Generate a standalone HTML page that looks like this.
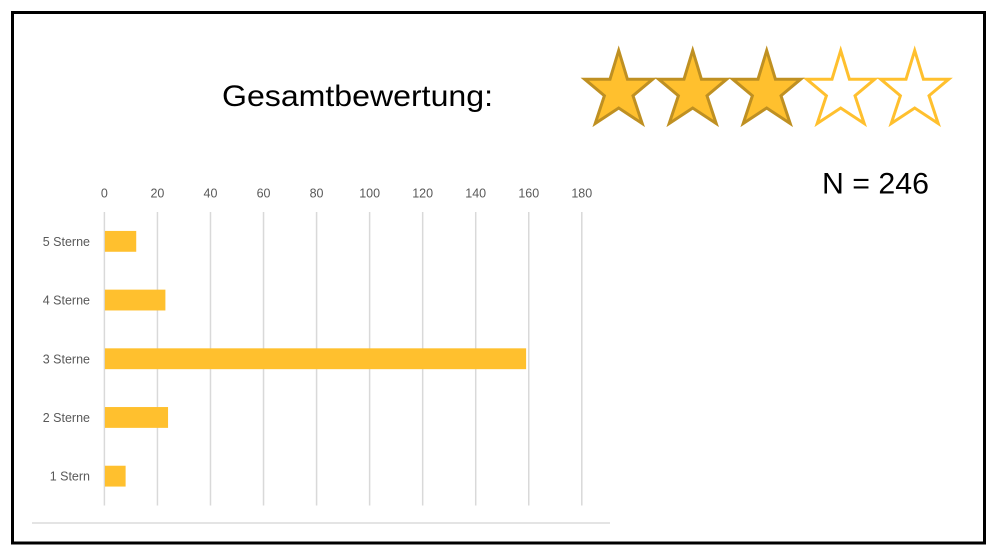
<!DOCTYPE html>
<html lang="de">
<head>
<meta charset="utf-8">
<title>Gesamtbewertung</title>
<style>
html,body{margin:0;padding:0;background:#fff;}
svg{display:block;}
text{font-family:"Liberation Sans",sans-serif;}
</style>
</head>
<body>
<svg id="chart" xmlns="http://www.w3.org/2000/svg" width="998" height="556" viewBox="0 0 998 556">
  <rect x="12.5" y="12.5" width="972" height="530.5" fill="#fff" stroke="#000" stroke-width="3"/>
  <text x="222" y="106" font-size="30" fill="#000" textLength="271" lengthAdjust="spacingAndGlyphs">Gesamtbewertung:</text>
  <g id="stars"></g>
  <text x="822" y="193.5" font-size="29.5" fill="#000" textLength="107" lengthAdjust="spacingAndGlyphs">N = 246</text>
  <g id="grid"></g>
  <g id="xticks"></g>
  <g id="bars"></g>
  <g id="ylabels"></g>
  <line x1="32" x2="610" y1="523" y2="523" stroke="#dcdcdc" stroke-width="1.5"/>
</svg>
<script>
const categories = ['5 Sterne', '4 Sterne', '3 Sterne', '2 Sterne', '1 Stern'];
const seriesValues = [12, 23, 159, 24, 8];
const xTickValues = [0, 20, 40, 60, 80, 100, 120, 140, 160, 180];
const ratingFilled = 3;
const ratingMax = 5;

const NS = 'http://www.w3.org/2000/svg';
const plotLeft = 104.4, plotRight = 581.8, plotTop = 212, plotBottom = 505.5;
const xMax = xTickValues[xTickValues.length - 1];
function xScale(v) { return plotLeft + (v / xMax) * (plotRight - plotLeft); }
function bandStart(i) { return plotTop + i * (plotBottom - plotTop) / categories.length; }
function bandWidth() { return (plotBottom - plotTop) / categories.length; }
function make(tag, attrs, parent) {
  const el = document.createElementNS(NS, tag);
  for (const k in attrs) el.setAttribute(k, attrs[k]);
  parent.appendChild(el);
  return el;
}

const gridG = document.getElementById('grid');
const tickG = document.getElementById('xticks');
xTickValues.forEach(function (t) {
  const line = make('line', { x1: xScale(t), x2: xScale(t), y1: plotTop, y2: plotBottom, stroke: '#d9d9d9', 'stroke-width': 1.5 }, gridG);
  
  
  const label = make('text', { x: xScale(t), y: 197.5, 'font-size': 12.5, fill: '#595959', 'text-anchor': 'middle' }, tickG);
  
  
  label.textContent = t;
});

const barG = document.getElementById('bars');
const labelG = document.getElementById('ylabels');
const barH = bandWidth() * 0.355;
categories.forEach(function (c, i) {
  const cy = bandStart(i) + bandWidth() / 2;
  const bar = make('rect', { x: xScale(0) + 0.5, y: cy - barH / 2, width: xScale(seriesValues[i]) - xScale(0) - 0.5, height: barH, fill: '#ffc02e' }, barG);
  
  
  const label = make('text', { x: 90, y: cy + 4.5, 'font-size': 12.5, fill: '#595959', 'text-anchor': 'end' }, labelG);
  
  
  label.textContent = c;
});

const starG = document.getElementById('stars');
const starCenterX = 618.7, starSpacing = 74;
const starShape = 'M0 -70.5 L-8.7 -41.8 H-34 L-14.3 -25.3 L-23.5 2.5 L0 -13 L23.5 2.5 L14.3 -25.3 L34 -41.8 H8.7 Z';
for (let i = ratingMax - 1; i >= 0; i--) {
  const filled = i < ratingFilled;
  const star = make('path', {
    d: starShape,
    transform: 'translate(' + (starCenterX + i * starSpacing) + ' 121)',
    fill: filled ? '#ffc02e' : '#ffffff',
    stroke: filled ? '#bf9022' : '#ffc02e',
    'stroke-width': 3,
    'stroke-miterlimit': 10
  }, starG);
  
  
}
</script>
</body>
</html>
